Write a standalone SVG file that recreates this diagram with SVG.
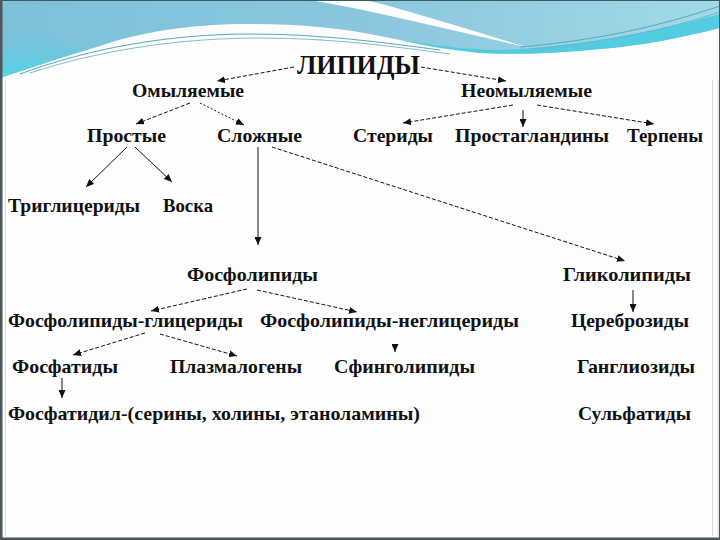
<svg xmlns="http://www.w3.org/2000/svg" width="720" height="540" viewBox="0 0 720 540">
<style>
  text { font-family: "Liberation Serif", Tinos, "Times New Roman", Times, serif; font-weight: bold; fill: #111; }
  .n { font-size: 19px; }
  .t { font-size: 28px; }
  .c { fill: none; stroke: #111; stroke-width: 1; }
  .d { stroke-dasharray: 4 2; }
  .o { stroke-dasharray: 2 2; }
</style>
<defs>
  <marker id="ah" markerUnits="userSpaceOnUse" markerWidth="9" markerHeight="7" refX="8" refY="3.5" orient="auto">
    <path d="M0,0 L8,3.5 L0,7 Z" fill="#111"/>
  </marker>
  <linearGradient id="sky" x1="0" y1="0" x2="1" y2="0">
    <stop offset="0" stop-color="#7cc0da"/>
    <stop offset="0.5" stop-color="#8bc6de"/>
    <stop offset="1" stop-color="#a2d9e6"/>
  </linearGradient>
  <linearGradient id="lc" x1="0" y1="0" x2="0" y2="1">
    <stop offset="0" stop-color="#7cc0da" stop-opacity="0"/>
    <stop offset="1" stop-color="#4fd6e6"/>
  </linearGradient>
</defs>
<rect x="0" y="0" width="720" height="540" fill="#fdfdfd"/>
<g id="background">
  <path d="M0,0 H720 V28 C680,38 640,46 600,49 C560,53 520,55 480,53 C440,48 410,42 380,36 C340,28 300,24 250,24 C190,24 140,32 100,46 C60,58 30,68 0,78 Z" fill="url(#sky)"/>
  <path d="M0,20 C30,30 50,40 90,48 C60,58 30,68 0,78 Z" fill="url(#lc)"/>
  <path d="M310,0 C380,12 450,30 530,48 C450,24 400,8 365,0 Z" fill="#ffffff"/>
  <path d="M400,40 C440,46 470,50 500,50 C560,48 640,36 720,14 V28 C680,38 640,46 600,49 C560,53 520,55 480,53 C450,50 425,46 400,40 Z" fill="#45cadf" opacity="0.85"/>
  <path d="M20,74 C90,48 170,34 250,34 C320,34 380,42 440,50" fill="none" stroke="#5aa8b8" stroke-width="1"/>
  <path d="M30,73 C100,50 180,38 260,38 C330,38 390,46 450,54" fill="none" stroke="#86bcc8" stroke-width="1"/>
  <path d="M520,47 C600,40 660,26 720,6" fill="none" stroke="#5aa8c0" stroke-width="1"/>
  <path d="M530,49 C610,42 665,30 720,12" fill="none" stroke="#6ab8d0" stroke-width="1"/>
  <rect x="0.5" y="0.5" width="719" height="539" fill="none" stroke="#3a5a66" stroke-width="1"/>
  <path d="M1.5,0 V540 M0,538.5 H720" stroke="#555" stroke-width="2" fill="none"/>
  <path d="M5.5,80 V536 M712.5,80 V536 M718,80 V536" stroke="#d8d8d8" stroke-width="1" fill="none"/>
</g>
<g id="connectors">
  <line class="c d" x1="294" y1="67" x2="217" y2="81" marker-end="url(#ah)"/>
  <line class="c d" x1="421" y1="67" x2="506" y2="81" marker-end="url(#ah)"/>
  <line class="c d" x1="190" y1="103" x2="136" y2="124" marker-end="url(#ah)"/>
  <line class="c o" x1="200" y1="103" x2="244" y2="125" marker-end="url(#ah)"/>
  <line class="c d" x1="513" y1="105" x2="403" y2="123" marker-end="url(#ah)"/>
  <line class="c" x1="523" y1="110" x2="523" y2="127" marker-end="url(#ah)"/>
  <line class="c d" x1="537" y1="105" x2="654" y2="124" marker-end="url(#ah)"/>
  <line class="c" x1="127" y1="147" x2="86" y2="187" marker-end="url(#ah)"/>
  <line class="c" x1="135" y1="147" x2="172" y2="182" marker-end="url(#ah)"/>
  <line class="c" x1="258" y1="147" x2="258" y2="245" marker-end="url(#ah)"/>
  <line class="c d" x1="272" y1="147" x2="625" y2="261" marker-end="url(#ah)"/>
  <line class="c d" x1="247" y1="289" x2="151" y2="311" marker-end="url(#ah)"/>
  <line class="c d" x1="257" y1="290" x2="357" y2="312" marker-end="url(#ah)"/>
  <line class="c" x1="633" y1="290" x2="633" y2="312" marker-end="url(#ah)"/>
  <line class="c d" x1="145" y1="333" x2="73" y2="355" marker-end="url(#ah)"/>
  <line class="c d" x1="160" y1="334" x2="237" y2="356" marker-end="url(#ah)"/>
  <line class="c" x1="395" y1="346" x2="395" y2="352" marker-end="url(#ah)"/>
  <line class="c" x1="62" y1="378" x2="62" y2="398" marker-end="url(#ah)"/>
</g>
<g id="n-lipidy"><text class="t" x="297" y="74" textLength="123" lengthAdjust="spacingAndGlyphs">ЛИПИДЫ</text></g>
<g id="n-omyl"><text class="n" x="132" y="97" textLength="112" lengthAdjust="spacingAndGlyphs">Омыляемые</text></g>
<g id="n-neomyl"><text class="n" x="461" y="97" textLength="131" lengthAdjust="spacingAndGlyphs">Неомыляемые</text></g>
<g id="n-prostye"><text class="n" x="87" y="142" textLength="79" lengthAdjust="spacingAndGlyphs">Простые</text></g>
<g id="n-slozhnye"><text class="n" x="217" y="142" textLength="85" lengthAdjust="spacingAndGlyphs">Сложные</text></g>
<g id="n-steridy"><text class="n" x="353" y="142" textLength="80" lengthAdjust="spacingAndGlyphs">Стериды</text></g>
<g id="n-prostagl"><text class="n" x="455" y="142" textLength="154" lengthAdjust="spacingAndGlyphs">Простагландины</text></g>
<g id="n-terpeny"><text class="n" x="627" y="142" textLength="76" lengthAdjust="spacingAndGlyphs">Терпены</text></g>
<g id="n-trigl"><text class="n" x="8" y="212" textLength="132" lengthAdjust="spacingAndGlyphs">Триглицериды</text></g>
<g id="n-voska"><text class="n" x="163" y="212" textLength="50" lengthAdjust="spacingAndGlyphs">Воска</text></g>
<g id="n-fosfolip"><text class="n" x="187" y="281" textLength="131" lengthAdjust="spacingAndGlyphs">Фосфолипиды</text></g>
<g id="n-glikolip"><text class="n" x="563" y="281" textLength="128" lengthAdjust="spacingAndGlyphs">Гликолипиды</text></g>
<g id="n-fg"><text class="n" x="8" y="327" textLength="235" lengthAdjust="spacingAndGlyphs">Фосфолипиды-глицериды</text></g>
<g id="n-fng"><text class="n" x="260" y="327" textLength="259" lengthAdjust="spacingAndGlyphs">Фосфолипиды-неглицериды</text></g>
<g id="n-cerebr"><text class="n" x="571" y="327" textLength="118" lengthAdjust="spacingAndGlyphs">Цереброзиды</text></g>
<g id="n-fosfatidy"><text class="n" x="12" y="373" textLength="106" lengthAdjust="spacingAndGlyphs">Фосфатиды</text></g>
<g id="n-plazm"><text class="n" x="170" y="373" textLength="132" lengthAdjust="spacingAndGlyphs">Плазмалогены</text></g>
<g id="n-sfingo"><text class="n" x="334" y="373" textLength="141" lengthAdjust="spacingAndGlyphs">Сфинголипиды</text></g>
<g id="n-gangl"><text class="n" x="577" y="373" textLength="118" lengthAdjust="spacingAndGlyphs">Ганглиозиды</text></g>
<g id="n-fosfatidil"><text class="n" x="8" y="420" textLength="412" lengthAdjust="spacingAndGlyphs">Фосфатидил-(серины, холины, этаноламины)</text></g>
<g id="n-sulf"><text class="n" x="578" y="420" textLength="113" lengthAdjust="spacingAndGlyphs">Сульфатиды</text></g>
</svg>
